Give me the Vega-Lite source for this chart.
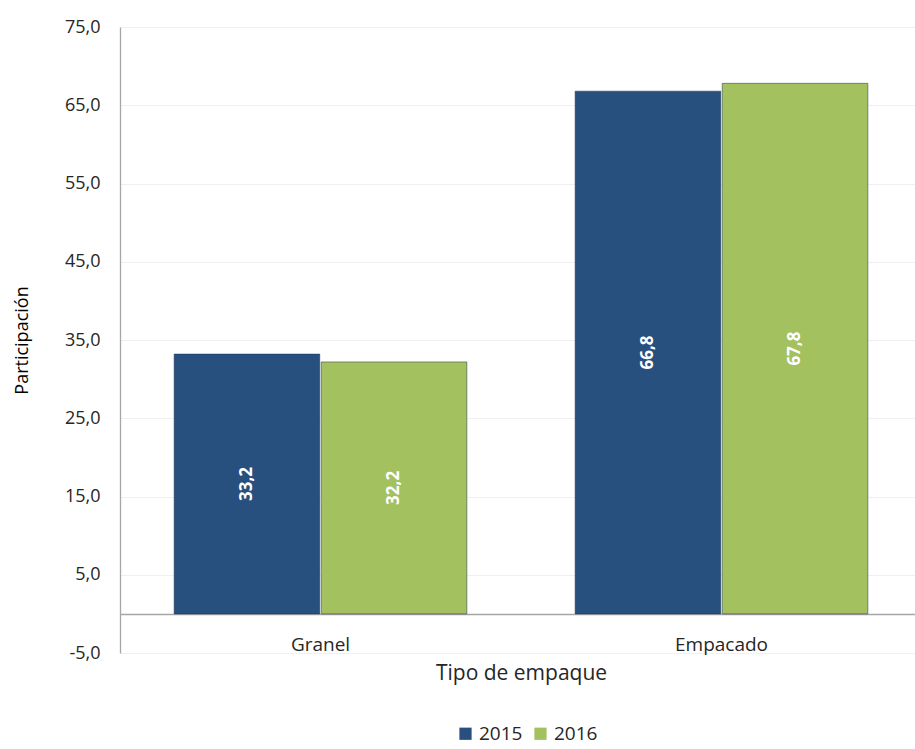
{
  "$schema": "https://vega.github.io/schema/vega-lite/v6.json",
  "width": 802,
  "height": 626,
  "autosize": "none",
  "padding": {"left": 120, "top": 27, "right": 0, "bottom": 96},
  "background": "white",
  "data": {"values": [
    {"tipo": "Granel", "year": "2015", "value": 33.2},
    {"tipo": "Granel", "year": "2016", "value": 32.2},
    {"tipo": "Empacado", "year": "2015", "value": 66.8},
    {"tipo": "Empacado", "year": "2016", "value": 67.8}
  ]},
  "encoding": {
    "x": {"field": "tipo", "type": "nominal", "sort": ["Granel", "Empacado"],
      "scale": {"paddingInner": 0.27, "paddingOuter": 0.135},
      "axis": {"title": "Tipo de empaque", "offset": -39, "domainColor": "#a6a6a6", "domainWidth": 1.3, "ticks": false, "labelAngle": 0, "labelPadding": 21, "labelFontSize": 19, "labelColor": "#262626", "titleFontSize": 21, "titleFontWeight": "normal", "titleColor": "#262626", "titlePadding": 8, "grid": false}},
    "xOffset": {"field": "year", "type": "nominal", "scale": {"paddingInner": 0.01}}
  },
  "layer": [
    {
      "mark": {"type": "bar", "stroke": "#1a3350", "strokeWidth": 1, "strokeOpacity": 0.5},
      "encoding": {
        "y": {"field": "value", "type": "quantitative",
          "scale": {"domain": [-5, 75], "nice": false, "zero": false},
          "axis": {"title": "Participación", "values": [-5, 5, 15, 25, 35, 45, 55, 65, 75], "format": ".1f", "domainColor": "#a6a6a6", "domainWidth": 1.3, "ticks": false, "labelPadding": 20, "labelFontSize": 18, "labelColor": "#262626", "gridColor": "#f0f0f0", "titleFontSize": 18, "titleFontWeight": "normal", "titleColor": "#000000", "titlePadding": 33}},
        "y2": {"datum": 0},
        "color": {"field": "year", "type": "nominal",
          "scale": {"domain": ["2015", "2016"], "range": ["#27507f", "#a3c15f"]},
          "legend": {"title": null, "orient": "none", "direction": "horizontal", "legendX": 336, "legendY": 697, "symbolType": "square", "symbolSize": 150, "symbolStrokeWidth": 0, "labelFontSize": 19, "labelColor": "#262626", "columnPadding": 8, "labelOffset": 4}}
      }
    },
    {
      "transform": [{"calculate": "datum.value / 2", "as": "mid"}],
      "mark": {"type": "text", "angle": 270, "color": "white", "fontSize": 17, "fontWeight": "bold", "align": "center", "baseline": "middle"},
      "encoding": {
        "y": {"field": "mid", "type": "quantitative"},
        "text": {"field": "value", "type": "quantitative", "format": ".1f"}
      }
    }
  ],
  "config": {
    "font": "Open Sans",
    "view": {"stroke": null},
    "locale": {"number": {"decimal": ",", "thousands": ".", "grouping": [3], "currency": ["", ""], "minus": "-"}}
  }
}
